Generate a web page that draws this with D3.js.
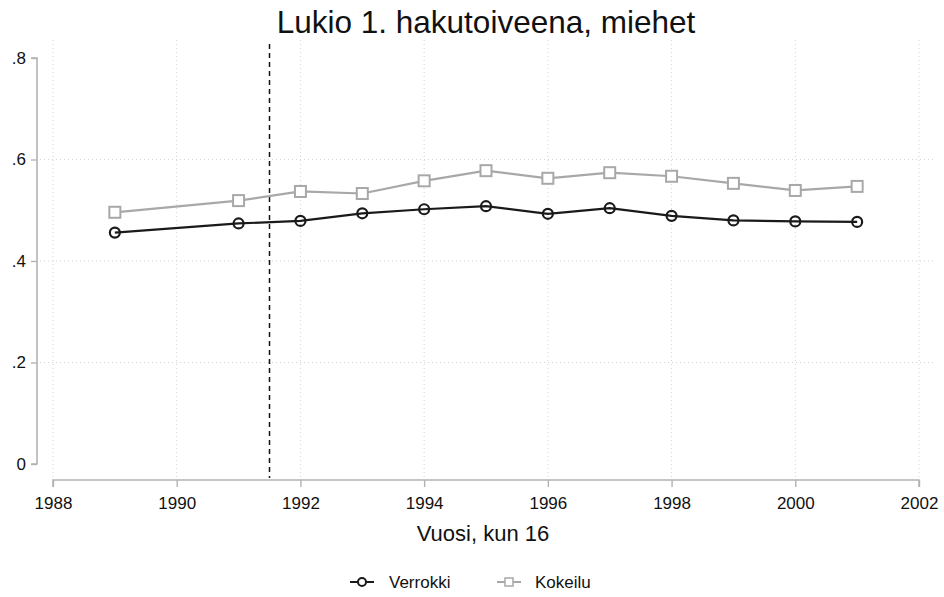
<!DOCTYPE html>
<html><head><meta charset="utf-8">
<script src="https://cdn.jsdelivr.net/npm/d3@7"></script>
<style>body{margin:0;background:#fff}svg{display:block;font-family:"Liberation Sans",Arial,sans-serif}</style>
</head><body><svg id="c" width="944" height="597"></svg>
<script>
const years = [1989,1991,1992,1993,1994,1995,1996,1997,1998,1999,2000,2001];
const verrokki = [0.456,0.474,0.479,0.494,0.502,0.508,0.493,0.504,0.489,0.480,0.478,0.477];
const kokeilu  = [0.496,0.519,0.537,0.533,0.558,0.578,0.563,0.574,0.567,0.553,0.539,0.547];
const xTicks = [1988,1990,1992,1994,1996,1998,2000,2002];
const yTicks = [0,0.2,0.4,0.6,0.8];
const yTickLabels = ["0",".2",".4",".6",".8"];
const cutoffYear = 1991.5;
const title = "Lukio 1. hakutoiveena, miehet";
const xTitle = "Vuosi, kun 16";
const seriesNames = ["Verrokki","Kokeilu"];

const svg = d3.select("#c");
const x = d3.scaleLinear().domain([1988,2002]).range([53,919]);
const y = d3.scaleLinear().domain([0,0.8]).range([464,58]);
const plotTop = 40, plotBottom = 477, plotLeft = 40, plotRight = 934;

// gridlines
const grid = svg.append("g");
grid.selectAll("line.v").data(xTicks).join("line")
  .attr("x1",d=>x(d)).attr("x2",d=>x(d)).attr("y1",plotTop).attr("y2",plotBottom)
  .attr("stroke","#d3d3d3").attr("stroke-width",1).attr("stroke-dasharray","1,3");
grid.selectAll("line.h").data(yTicks.filter(d=>d>0 && d<0.8)).join("line")
  .attr("x1",plotLeft).attr("x2",plotRight).attr("y1",d=>y(d)).attr("y2",d=>y(d))
  .attr("stroke","#d3d3d3").attr("stroke-width",1).attr("stroke-dasharray","1,3");

// y axis
const yAxis = d3.axisLeft(y).tickValues(yTicks).tickFormat((d,i)=>yTickLabels[i]).tickSize(6).tickPadding(5);
const gy = svg.append("g").attr("transform","translate(37,0)").call(yAxis);
gy.select(".domain").attr("stroke","#b3b3b3").attr("stroke-width",1.6).attr("d",`M-6,${y(0.8)}H0V${y(0)}H-6`);
gy.selectAll(".tick line").attr("stroke","#b3b3b3").attr("stroke-width",1.4);
gy.selectAll(".tick text").attr("font-size",17).attr("fill","#111").attr("font-family","Liberation Sans, Arial");

// x axis
const xAxis = d3.axisBottom(x).tickValues(xTicks).tickFormat(d3.format("d")).tickSize(7).tickPadding(10);
const gx = svg.append("g").attr("transform","translate(0,480)").call(xAxis);
gx.select(".domain").attr("stroke","#b3b3b3").attr("stroke-width",1.6).attr("d",`M${x(1988)},7V0H${x(2002)}V7`);
gx.selectAll(".tick line").attr("stroke","#b3b3b3").attr("stroke-width",1.4);
gx.selectAll(".tick text").attr("font-size",17).attr("fill","#111").attr("font-family","Liberation Sans, Arial");

// cutoff dashed line
svg.append("line").attr("x1",x(cutoffYear)).attr("x2",x(cutoffYear)).attr("y1",44).attr("y2",y(0)+14)
  .attr("stroke","#111").attr("stroke-width",1.5).attr("stroke-dasharray","5,4");

// series
const series = [
  {name:seriesNames[0], vals:verrokki, color:"#1a1a1a", shape:"circle"},
  {name:seriesNames[1], vals:kokeilu, color:"#a8a8a8", shape:"square"}
];
const line = d3.line().x((d,i)=>x(years[i])).y(d=>y(d));
series.slice().reverse().forEach(s=>{
  svg.append("path").attr("d",line(s.vals)).attr("fill","none").attr("stroke",s.color).attr("stroke-width",2.2);
  const g = svg.append("g");
  if(s.shape==="circle"){
    g.selectAll("circle").data(s.vals).join("circle")
      .attr("cx",(d,i)=>x(years[i])).attr("cy",d=>y(d)).attr("r",5)
      .attr("fill","none").attr("stroke",s.color).attr("stroke-width",2.2);
  } else {
    g.selectAll("rect").data(s.vals).join("rect")
      .attr("x",(d,i)=>x(years[i])-5.5).attr("y",d=>y(d)-5.5).attr("width",11).attr("height",11)
      .attr("fill","#fff").attr("stroke",s.color).attr("stroke-width",2);
  }
});

// title
svg.append("text").attr("x",486).attr("y",33).attr("text-anchor","middle")
  .attr("font-size",31.5).attr("fill","#111").text(title);
svg.append("text").attr("x",483).attr("y",541).attr("text-anchor","middle")
  .attr("font-size",22).attr("fill","#111").text(xTitle);

// legend
const leg = svg.append("g");
const legItems = [{s:series[0],x:350,tx:389},{s:series[1],x:497,tx:535}];
legItems.forEach(it=>{
  const ly = 582;
  leg.append("line").attr("x1",it.x).attr("x2",it.x+24).attr("y1",ly).attr("y2",ly)
    .attr("stroke",it.s.color).attr("stroke-width",2);
  if(it.s.shape==="circle"){
    leg.append("circle").attr("cx",it.x+12).attr("cy",ly).attr("r",4).attr("fill","#fff")
      .attr("stroke",it.s.color).attr("stroke-width",2);
  } else {
    leg.append("rect").attr("x",it.x+8).attr("y",ly-4).attr("width",8).attr("height",8).attr("fill","#fff")
      .attr("stroke",it.s.color).attr("stroke-width",1.5);
  }
  leg.append("text").attr("x",it.tx).attr("y",ly+6).attr("font-size",17).attr("fill","#111").text(it.s.name);
});
</script></body></html>
